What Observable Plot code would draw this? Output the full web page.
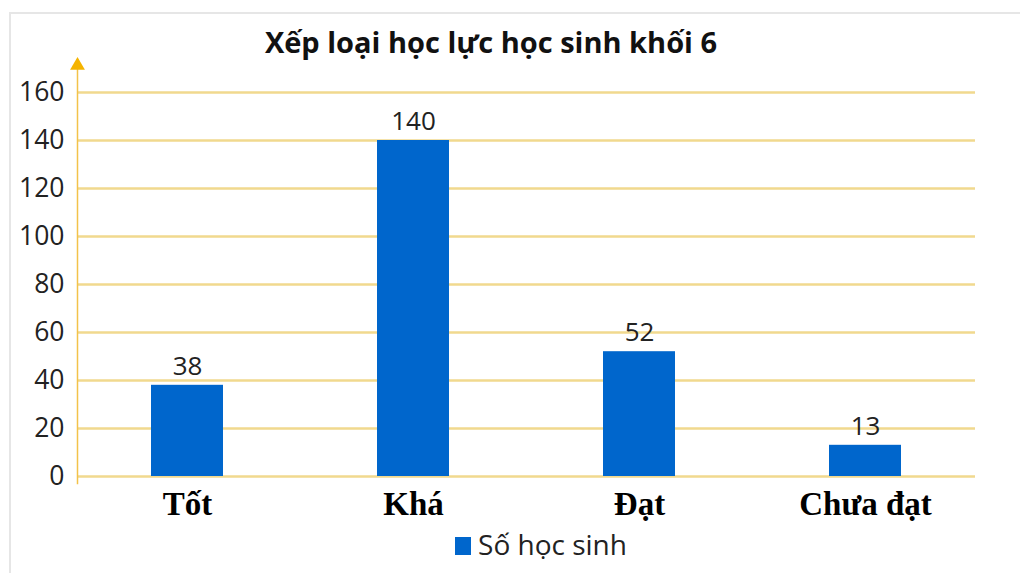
<!DOCTYPE html>
<html>
<head>
<meta charset="utf-8">
<script src="https://cdn.jsdelivr.net/npm/d3@7"></script>
<script src="https://cdn.jsdelivr.net/npm/@observablehq/plot@0.6"></script>
<style>
  html, body { margin: 0; padding: 0; background: #fff; }
  #frame { position: absolute; left: 9px; top: 12px; width: 1011px; height: 561px;
           border-top: 2px solid #e6e6e6; border-left: 2px solid #e6e6e6; box-sizing: border-box; }
  #title { position: absolute; left: 0; top: 22px; width: 982px; text-align: center;
           font-family: "Open Sans", sans-serif; font-weight: 700; font-size: 29px; color: #111; }
  #chart { position: absolute; left: 0; top: 60px; }
  #legend { position: absolute; left: 0; top: 525px; width: 1082px; text-align: center;
            font-family: "Open Sans", sans-serif; font-size: 28px; color: #222; }
  #legend .sw { display: inline-block; width: 16px; height: 18px; background: #0066cc;
                vertical-align: 0px; margin-right: 7px; }
</style>
</head>
<body>
<div id="frame"></div>
<div id="title">Xếp loại học lực học sinh khối 6</div>
<div id="chart"></div>
<div id="legend"><span class="sw"></span>Số học sinh</div>
<script>
const categories = ["Tốt", "Khá", "Đạt", "Chưa đạt"];
const values = [38, 140, 52, 13];
const yTicks = [0, 20, 40, 60, 80, 100, 120, 140, 160];
const seriesName = "Số học sinh";

const data = categories.map((c, i) => ({category: c, value: values[i], series: seriesName}));

const gold = "#f1d98e";
const axisGold = "#f3c24a";

const chart = Plot.plot({
  width: 1020,
  height: 470,
  marginLeft: 77,
  marginRight: 45,
  marginTop: 32,
  marginBottom: 54,
  style: {background: "transparent", overflow: "visible"},
  x: {domain: categories, paddingInner: 0.68, paddingOuter: 0.32, label: null},
  y: {domain: [0, 160], label: null},
  marks: [
    Plot.ruleY(yTicks, {stroke: gold, strokeWidth: 2.5}),
    Plot.frame({anchor: "left", stroke: axisGold, strokeWidth: 1.5, insetTop: -26, insetBottom: -7}),
    Plot.dot([0], {frameAnchor: "top-left", dy: -27, symbol: "triangle", r: 5.5, fill: "#f5b400", stroke: null}),
    Plot.axisY({ticks: yTicks, tickSize: 0, tickPadding: 13, fontSize: 26.5, fontFamily: "Open Sans, sans-serif", fill: "#222", tickFormat: d => d}),
    Plot.axisX({tickSize: 0, tickPadding: 15, fontSize: 33, fontFamily: "Liberation Serif, serif", fontWeight: "bold", fill: "#000"}),
    Plot.barY(data, {x: "category", y: "value", fill: "#0066cc"}),
    Plot.text(data, {x: "category", y: "value", text: d => String(d.value), dy: -19, fontSize: 26, fontFamily: "Open Sans, sans-serif", fill: "#222"})
  ]
});
document.getElementById("chart").appendChild(chart);
</script>
</body>
</html>
